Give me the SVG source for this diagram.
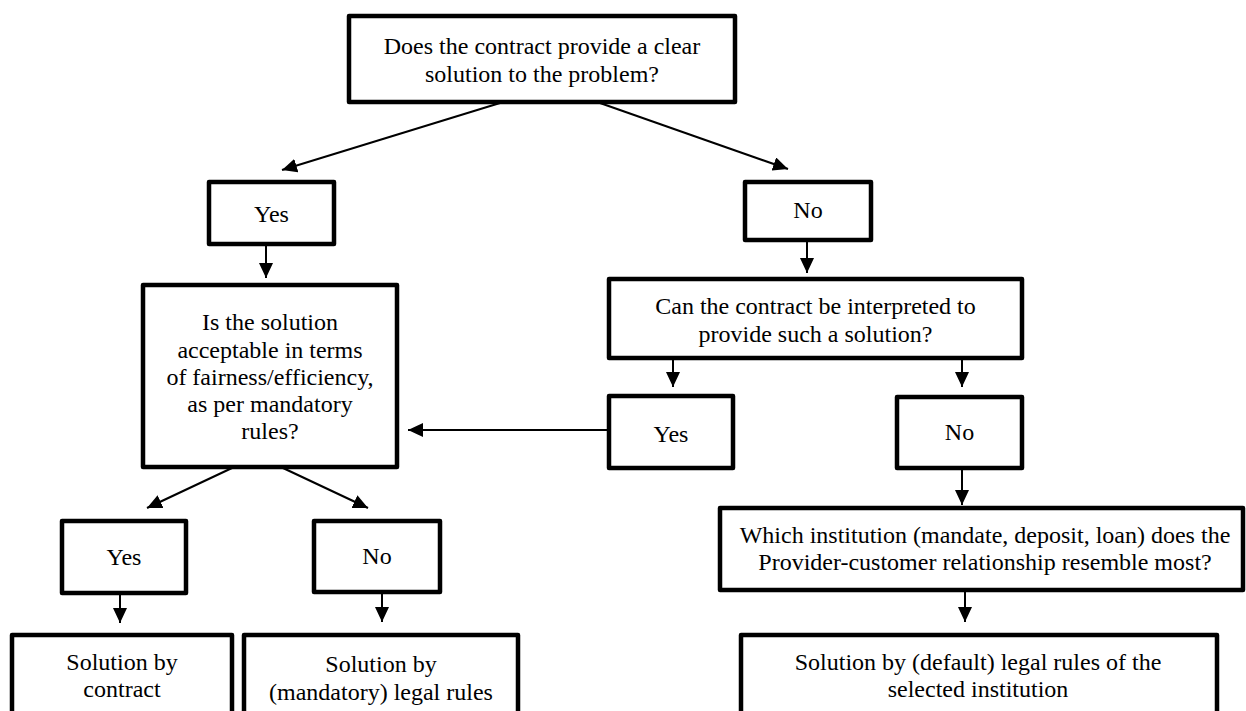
<svg xmlns="http://www.w3.org/2000/svg" width="1246" height="711" viewBox="0 0 1246 711">
<defs>
<marker id="ah" markerUnits="userSpaceOnUse" markerWidth="16" markerHeight="14" refX="15" refY="7" orient="auto">
<path d="M0,0 L15,7 L0,14 z" fill="#000"/>
</marker>
<style>
.box{fill:#fff;stroke:#000;stroke-width:4.5;stroke-linejoin:round}
.t{font-family:"Liberation Serif","Times New Roman",serif;font-size:24px;fill:#000;text-anchor:middle}
.c{fill:none;stroke:#000;stroke-width:2;marker-end:url(#ah)}
</style>
</defs>
<rect width="1246" height="711" fill="#fff"/>
<g id="connectors">
<line class="c" x1="500" y1="103" x2="282" y2="170"/>
<line class="c" x1="600" y1="103" x2="788" y2="169"/>
<line class="c" x1="266" y1="245" x2="266" y2="278"/>
<line class="c" x1="807" y1="240" x2="807" y2="273"/>
<line class="c" x1="673" y1="358" x2="673" y2="387"/>
<line class="c" x1="962" y1="358" x2="962" y2="387"/>
<line class="c" x1="609" y1="430" x2="408" y2="430"/>
<line class="c" x1="962" y1="468" x2="962" y2="505"/>
<line class="c" x1="965" y1="590" x2="965" y2="622"/>
<line class="c" x1="232" y1="468" x2="147" y2="508"/>
<line class="c" x1="283" y1="468" x2="368" y2="508"/>
<line class="c" x1="120" y1="593" x2="120" y2="623"/>
<line class="c" x1="382" y1="592" x2="382" y2="622"/>
</g>
<g id="q1">
<rect class="box" x="349" y="16" width="386" height="86"/>
<text class="t" x="542" y="54">Does the contract provide a clear</text>
<text class="t" x="542" y="81.5">solution to the problem?</text>
</g>
<g id="yes1">
<rect class="box" x="209" y="182" width="125" height="62"/>
<text class="t" x="271.5" y="222">Yes</text>
</g>
<g id="no1">
<rect class="box" x="745" y="182" width="126" height="58"/>
<text class="t" x="808" y="218">No</text>
</g>
<g id="q2">
<rect class="box" x="143" y="285" width="254" height="182"/>
<text class="t" x="270" y="330">Is the solution</text>
<text class="t" x="270" y="357.5">acceptable in terms</text>
<text class="t" x="270" y="385">of fairness/efficiency,</text>
<text class="t" x="270" y="412">as per mandatory</text>
<text class="t" x="270" y="438.5">rules?</text>
</g>
<g id="q3">
<rect class="box" x="609" y="279" width="413" height="79"/>
<text class="t" x="815.5" y="313.5">Can the contract be interpreted to</text>
<text class="t" x="815.5" y="342">provide such a solution?</text>
</g>
<g id="yes2">
<rect class="box" x="609" y="396" width="124" height="72"/>
<text class="t" x="671" y="442">Yes</text>
</g>
<g id="no2">
<rect class="box" x="897" y="397" width="125" height="71"/>
<text class="t" x="959.5" y="440">No</text>
</g>
<g id="yes3">
<rect class="box" x="62" y="521" width="124" height="72"/>
<text class="t" x="124" y="565">Yes</text>
</g>
<g id="no3">
<rect class="box" x="314" y="521" width="126" height="71"/>
<text class="t" x="377" y="564">No</text>
</g>
<g id="q4">
<rect class="box" x="720" y="508" width="523" height="82"/>
<text class="t" x="985" y="543">Which institution (mandate, deposit, loan) does the</text>
<text class="t" x="985" y="570">Provider-customer relationship resemble most?</text>
</g>
<g id="r1">
<rect class="box" x="12" y="635" width="220" height="90"/>
<text class="t" x="122" y="670">Solution by</text>
<text class="t" x="122" y="697">contract</text>
</g>
<g id="r2">
<rect class="box" x="244" y="635" width="274" height="90"/>
<text class="t" x="381" y="672">Solution by</text>
<text class="t" x="381" y="700">(mandatory) legal rules</text>
</g>
<g id="r3">
<rect class="box" x="741" y="635" width="476" height="90"/>
<text class="t" x="978" y="670">Solution by (default) legal rules of the</text>
<text class="t" x="978" y="697">selected institution</text>
</g>
</svg>
